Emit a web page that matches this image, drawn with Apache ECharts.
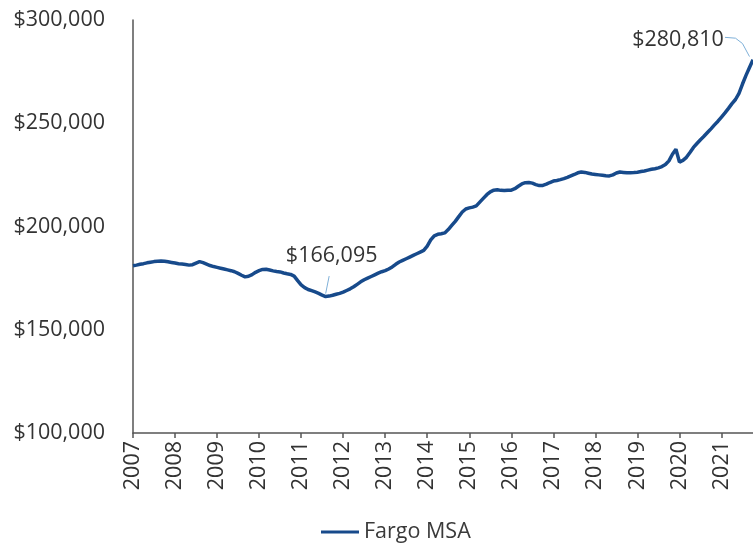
<!DOCTYPE html>
<html>
<head>
<meta charset="utf-8">
<script src="https://cdn.jsdelivr.net/npm/echarts@6/dist/echarts.min.js"></script>
<style>
  html, body { margin: 0; padding: 0; background: #fff; }
  #chart { width: 753px; height: 544px; }
</style>
</head>
<body>
<div id="chart"></div>
<script>
// median price, Fargo MSA, monthly (thousands of $), Jan 2007 - Oct 2021
const v2007 = [181.0, 181.3, 181.7, 182.0, 182.4, 182.7, 183.0, 183.2, 183.3, 183.2, 182.9, 182.6];
const v2008 = [182.3, 182.0, 181.8, 181.6, 181.3, 181.5, 182.3, 183.0, 182.5, 181.8, 181.1, 180.6];
const v2009 = [180.2, 179.8, 179.4, 179.0, 178.6, 178.1, 177.3, 176.4, 175.6, 175.9, 176.7, 177.8];
const v2010 = [178.6, 179.2, 179.3, 178.9, 178.5, 178.2, 178.0, 177.5, 177.1, 176.8, 176.0, 173.8];
const v2011 = [171.7, 170.4, 169.5, 168.9, 168.3, 167.6, 166.8, 166.095, 166.3, 166.7, 167.2, 167.6];
const v2012 = [168.2, 169.0, 169.8, 170.8, 172.0, 173.2, 174.2, 175.0, 175.8, 176.6, 177.4, 178.1];
const v2013 = [178.6, 179.4, 180.4, 181.7, 182.8, 183.6, 184.4, 185.2, 186.0, 186.8, 187.6, 188.4];
const v2014 = [190.5, 193.5, 195.5, 196.2, 196.5, 196.9, 198.5, 200.5, 202.5, 204.8, 207.0, 208.5];
const v2015 = [209.0, 209.4, 210.0, 211.8, 213.6, 215.4, 216.8, 217.6, 217.8, 217.5, 217.4, 217.6];
const v2016 = [217.6, 218.3, 219.5, 220.6, 221.2, 221.3, 221.0, 220.3, 219.8, 219.9, 220.5, 221.3];
const v2017 = [222.0, 222.3, 222.7, 223.2, 223.8, 224.5, 225.2, 226.0, 226.4, 226.2, 225.8, 225.4];
const v2018 = [225.2, 225.0, 224.8, 224.6, 224.5, 225.0, 225.9, 226.4, 226.2, 226.0, 226.0, 226.1];
const v2019 = [226.3, 226.6, 226.9, 227.3, 227.7, 228.0, 228.4, 229.0, 230.0, 231.8, 235.0, 237.4];
const v2020 = [231.2, 232.0, 233.5, 235.8, 238.3, 240.2, 242.0, 243.7, 245.5, 247.3, 249.2, 251.0];
const v2021 = [253.0, 255.0, 257.2, 259.5, 261.5, 264.5, 269.0, 273.2, 277.0, 280.81];

const years = [2007, 2008, 2009, 2010, 2011, 2012, 2013, 2014, 2015, 2016, 2017, 2018, 2019, 2020, 2021];
const yTicks = [100000, 150000, 200000, 250000, 300000];

const monthly = [v2007, v2008, v2009, v2010, v2011, v2012, v2013, v2014, v2015, v2016, v2017, v2018, v2019, v2020, v2021];

let months = [];
let values = [];
monthly.forEach((arr, i) => {
  arr.forEach((v, m) => {
    months.push(years[i] + '-' + String(m + 1).padStart(2, '0'));
    values.push(Math.round(v * 1000));
  });
});

const lowMonth = '2011-08', lowValue = 166095;
const lastMonth = months[months.length - 1], lastValue = values[values.length - 1];

// leader from the "$280,810" label down to the end of the line
const leaderEnd = [['2021-02', 291600], ['2021-05', 291200], ['2021-07', 288600], ['2021-09', 282300]];

const isJan = (idx, val) => val.slice(5) === '01';
const money = v => '$' + v.toLocaleString('en-US');
const FS = 21.5;

let leaderLines = [[{ coord: [lowMonth, 167500] }, { coord: ['2011-09', 176000] }]];
for (let i = 0; i < leaderEnd.length - 1; i++) {
  leaderLines.push([{ coord: leaderEnd[i] }, { coord: leaderEnd[i + 1] }]);
}

const chart = echarts.init(document.getElementById('chart'));
chart.setOption({
  animation: false,
  textStyle: { fontFamily: 'Open Sans' },
  grid: { left: 133, right: 0, top: 20, bottom: 111 },
  legend: {
    left: 316,
    top: 516,
    icon: 'rect',
    itemWidth: 38,
    itemHeight: 3,
    textStyle: { fontSize: FS, color: '#3a3a3a', fontFamily: 'Open Sans' },
    data: ['Fargo MSA']
  },
  xAxis: {
    type: 'category',
    data: months,
    boundaryGap: false,
    axisLine: { lineStyle: { color: '#555', width: 1.5 } },
    axisTick: { interval: isJan, length: 5, lineStyle: { color: '#555', width: 1.5 } },
    axisLabel: {
      interval: isJan,
      rotate: 90,
      formatter: v => v.slice(0, 4),
      fontSize: FS,
      color: '#333',
      margin: 8
    },
    splitLine: { show: false }
  },
  yAxis: {
    type: 'value',
    min: yTicks[0],
    max: yTicks[yTicks.length - 1],
    interval: 50000,
    axisLine: { show: true, lineStyle: { color: '#555', width: 1.5 } },
    axisTick: { show: false },
    splitLine: { show: false },
    axisLabel: { formatter: money, fontSize: FS, color: '#333', margin: 28 }
  },
  series: [{
    name: 'Fargo MSA',
    type: 'line',
    data: values,
    showSymbol: false,
    color: '#174a8b',
    lineStyle: { width: 3.5, color: '#174a8b' },
    markPoint: {
      symbol: 'rect',
      symbolSize: 1,
      silent: true,
      itemStyle: { color: 'rgba(0,0,0,0)' },
      label: { show: true, position: 'inside', fontSize: FS, color: '#333', fontFamily: 'Open Sans' },
      data: [
        { coord: [lowMonth, lowValue], label: { formatter: money(lowValue), offset: [6, -41] } },
        { coord: [lastMonth, lastValue], label: { formatter: money(lastValue), offset: [-75, -20] } }
      ]
    },
    markLine: {
      symbol: ['none', 'none'],
      silent: true,
      label: { show: false },
      lineStyle: { color: '#7fb0d8', width: 1, type: 'solid' },
      data: leaderLines
    }
  }]
});
</script>
</body>
</html>
